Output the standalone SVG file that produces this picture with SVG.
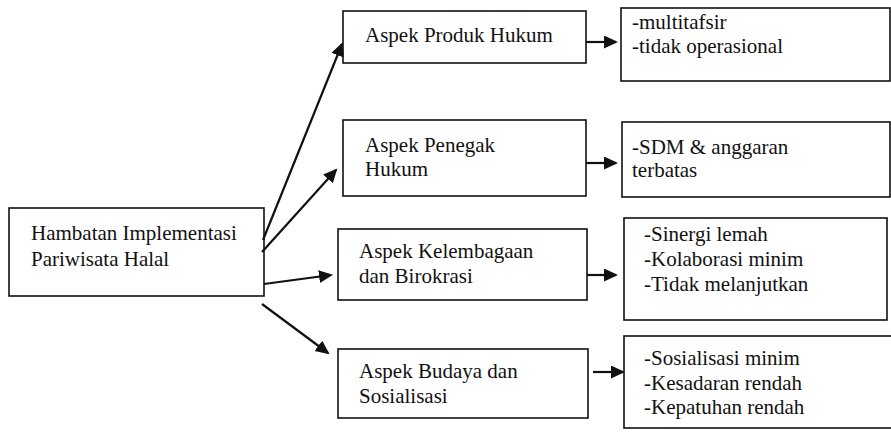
<svg xmlns="http://www.w3.org/2000/svg" width="891" height="433" viewBox="0 0 891 433">
<style>
.box{fill:#fff;stroke:#111;stroke-width:1.6}
text{font-family:"Liberation Serif","Times New Roman",serif;font-size:21px;fill:#111}
.c{stroke:#111;stroke-width:2.2;fill:none}
</style>
<defs>
<marker id="ah" markerUnits="userSpaceOnUse" markerWidth="16" markerHeight="14" refX="12" refY="6.5" orient="auto" viewBox="0 0 16 14">
<path d="M0,0 L14,6.5 L0,13 z" fill="#111"/>
</marker>
</defs>
<rect width="891" height="433" fill="#fff"/>
<g id="main"><rect class="box" x="9" y="208" width="255" height="88"/>
<text x="31" y="240">Hambatan Implementasi</text><text x="31" y="266">Pariwisata Halal</text></g>
<g id="produk"><rect class="box" x="343" y="11" width="243" height="52"/>
<text x="365" y="42">Aspek Produk Hukum</text></g>
<g id="penegak"><rect class="box" x="343" y="120" width="243" height="76"/>
<text x="365" y="152">Aspek Penegak</text><text x="365" y="176">Hukum</text></g>
<g id="kelembagaan"><rect class="box" x="338" y="229" width="249" height="71"/>
<text x="359" y="258">Aspek Kelembagaan</text><text x="359" y="283">dan Birokrasi</text></g>
<g id="budaya"><rect class="box" x="338" y="349" width="250" height="69"/>
<text x="359" y="378">Aspek Budaya dan</text><text x="359" y="403">Sosialisasi</text></g>
<g id="r1"><rect class="box" x="621" y="8" width="269" height="73"/>
<text x="632" y="29">-multitafsir</text><text x="632" y="53">-tidak operasional</text></g>
<g id="r2"><rect class="box" x="622" y="122" width="268" height="75"/>
<text x="632" y="154">-SDM &amp; anggaran</text><text x="632" y="177">terbatas</text></g>
<g id="r3"><rect class="box" x="624" y="218" width="263" height="102"/>
<text x="644" y="241">-Sinergi lemah</text><text x="644" y="266">-Kolaborasi minim</text><text x="644" y="291">-Tidak melanjutkan</text></g>
<g id="r4"><rect class="box" x="624" y="336" width="270" height="92"/>
<text x="644" y="365">-Sosialisasi minim</text><text x="644" y="390">-Kesadaran rendah</text><text x="644" y="414">-Kepatuhan rendah</text></g>
<g id="connectors">
<line class="c" x1="263" y1="240" x2="342" y2="44" marker-end="url(#ah)"/>
<line class="c" x1="262" y1="252" x2="336" y2="170" marker-end="url(#ah)"/>
<line class="c" x1="264" y1="284" x2="331" y2="275" marker-end="url(#ah)"/>
<line class="c" x1="262" y1="304" x2="328" y2="353" marker-end="url(#ah)"/>
<line class="c" x1="586" y1="42" x2="616" y2="42" marker-end="url(#ah)"/>
<line class="c" x1="586" y1="163" x2="616" y2="163" marker-end="url(#ah)"/>
<line class="c" x1="587" y1="275" x2="616" y2="275" marker-end="url(#ah)"/>
<line class="c" x1="593" y1="372" x2="623" y2="372" marker-end="url(#ah)"/>
</g>
</svg>
